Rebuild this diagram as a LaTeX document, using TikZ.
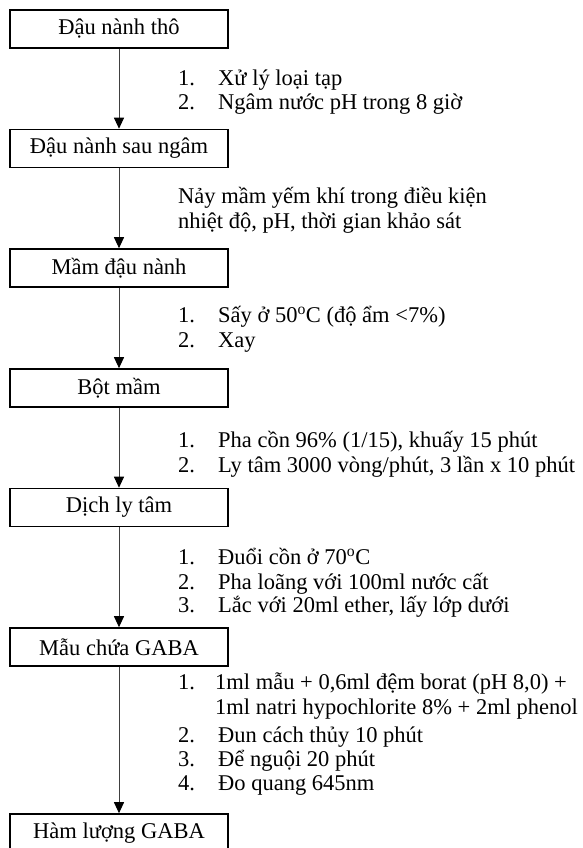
\documentclass[tikz,border=0pt]{standalone}
\usepackage{fontspec}
\setmainfont{Liberation Serif}
\usetikzlibrary{arrows.meta}
\begin{document}
\begin{tikzpicture}[x=1pt,y=-1pt,
  stepbox/.style={draw=black,line width=1.6pt,minimum width=218pt,minimum height=38pt,inner sep=0pt,font=\fontsize{22.5}{26}\selectfont},
  arr/.style={draw=black!75,line width=1pt,-{Triangle[width=10pt,length=11pt,color=black]}},
  num/.style={anchor=mid west,inner sep=0pt,yshift=-4pt,font=\fontsize{22.5}{26}\selectfont},
  txt/.style={anchor=mid west,inner sep=0pt,yshift=-4pt,font=\fontsize{22.5}{26}\selectfont}]
\useasboundingbox (0,0) rectangle (583,848);
\fill[white] (0,0) rectangle (583,848);
\node[stepbox] (b1) at (119,29) {Đậu nành thô};
\node[stepbox] (b2) at (119,148.5) {Đậu nành sau ngâm};
\node[stepbox] (b3) at (119,268) {Mầm đậu nành};
\node[stepbox] (b4) at (119,388) {Bột mầm};
\node[stepbox] (b5) at (119,507.5) {Dịch ly tâm};
\node[stepbox] (b6) at (119,647) {Mẫu chứa GABA};
\node[stepbox] (b7) at (119,833) {Hàm lượng GABA};
\draw[arr] (b1) -- (b2);
\draw[arr] (b2) -- (b3);
\draw[arr] (b3) -- (b4);
\draw[arr] (b4) -- (b5);
\draw[arr] (b5) -- (b6);
\draw[arr] (b6) -- (b7);
% block 1
\node[num] (n11) at (178,79) {1.};
\node[txt] (t11) at (218,79) {Xử lý loại tạp};
\node[num] (n12) at (178,103) {2.};
\node[txt] (t12) at (218,103) {Ngâm nước pH trong 8 giờ};
% block 2
\node[txt] (t21) at (178,197) {Nảy mầm yếm khí trong điều kiện};
\node[txt] (t22) at (178,222) {nhiệt độ, pH, thời gian khảo sát};
% block 3
\node[num] (n31) at (178,316) {1.};
\node[txt] (t31) at (218,316) {Sấy ở 50\textsuperscript{o}C (độ ẩm <7\%)};
\node[num] (n32) at (178,341) {2.};
\node[txt] (t32) at (218,341) {Xay};
% block 4
\node[num] (n41) at (178,441) {1.};
\node[txt] (t41) at (218,441) {Pha cồn 96\% (1/15), khuấy 15 phút};
\node[num] (n42) at (178,466) {2.};
\node[txt] (t42) at (218,466) {Ly tâm 3000 vòng/phút, 3 lần x 10 phút};
% block 5
\node[num] (n51) at (178,558) {1.};
\node[txt] (t51) at (218,558) {Đuổi cồn ở 70\textsuperscript{o}C};
\node[num] (n52) at (178,583) {2.};
\node[txt] (t52) at (218,583) {Pha loãng với 100ml nước cất};
\node[num] (n53) at (178,606) {3.};
\node[txt] (t53) at (218,606) {Lắc với 20ml ether, lấy lớp dưới};
% block 6
\node[num] (n61) at (178,683) {1.};
\node[txt] (t61) at (215,683) {1ml mẫu + 0,6ml đệm borat (pH 8,0) +};
\node[txt] (t61b) at (215,708) {1ml natri hypochlorite 8\% + 2ml phenol};
\node[num] (n62) at (178,736) {2.};
\node[txt] (t62) at (218,736) {Đun cách thủy 10 phút};
\node[num] (n63) at (178,760) {3.};
\node[txt] (t63) at (218,760) {Để nguội 20 phút};
\node[num] (n64) at (178,784) {4.};
\node[txt] (t64) at (218,784) {Đo quang 645nm};
\end{tikzpicture}
\end{document}
